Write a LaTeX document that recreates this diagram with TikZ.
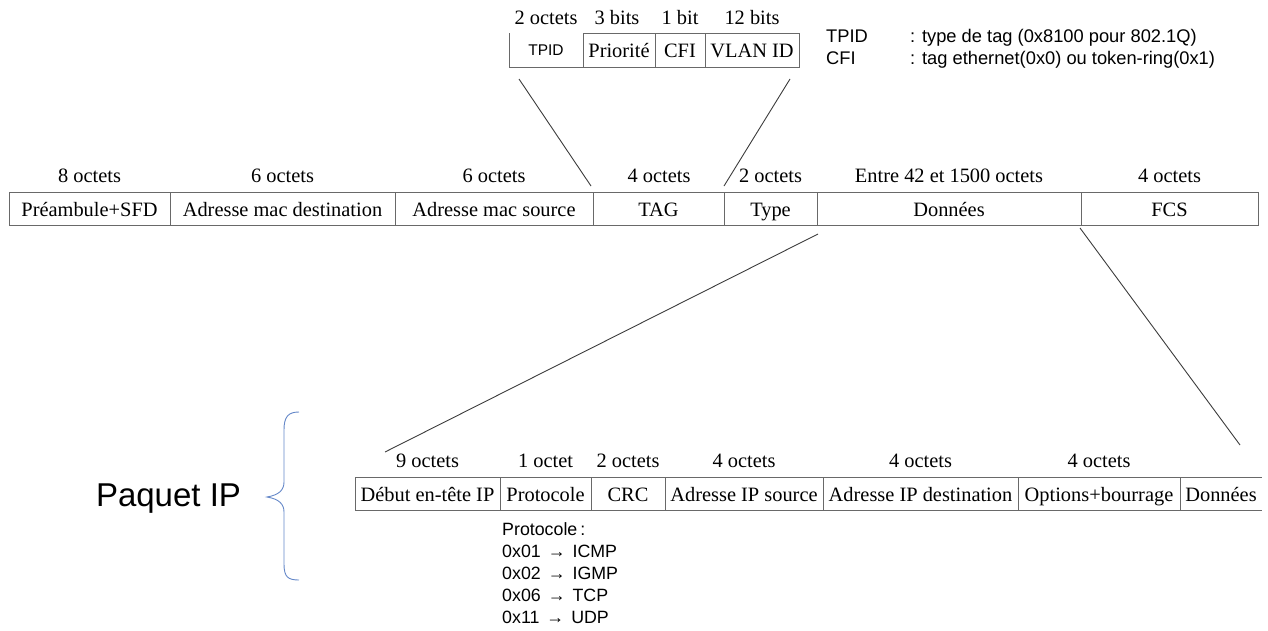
\documentclass[tikz,border=0pt]{standalone}
\usepackage{fontspec}
\setmainfont{Liberation Serif}
\setsansfont{Liberation Sans}
\definecolor{framegray}{RGB}{105,105,105}
\definecolor{linegray}{RGB}{60,60,60}
\definecolor{braceblue}{RGB}{100,135,200}
\newcommand{\protoarrow}{\hspace{7pt}→\hspace{7pt}}
\tikzset{
  cell/.style={draw=framegray, line width=0.9pt, minimum height=33pt, inner sep=0pt,
    text height=15pt, text depth=0pt, font=\fontsize{20.4}{24}\selectfont},
  opencell/.style={minimum height=33pt, inner sep=0pt,
    text height=15pt, text depth=0pt, font=\fontsize{20.4}{24}\selectfont},
  size/.style={anchor=base, inner sep=0pt, font=\fontsize{20.4}{24}\selectfont},
  legend/.style={anchor=base west, inner sep=0pt, font=\sffamily\fontsize{18.3}{22}\selectfont},
  protoline/.style={anchor=base west, inner sep=0pt, font=\sffamily\fontsize{17.8}{22}\selectfont},
  zoomline/.style={draw=linegray, line width=0.9pt},
  frameline/.style={draw=framegray, line width=0.9pt}
}
\begin{document}
\begin{tikzpicture}[x=1pt,y=-1pt]
\useasboundingbox (0,0) rectangle (1268,630);

% ---------- TAG detail box ----------
\node[opencell, minimum width=74pt, font=\sffamily\fontsize{15.5}{18}\selectfont, text height=11pt] (tpid) at (546,50) {TPID};
\draw[frameline] (509,33) -- (509,67) -- (583,67);
\node[cell, minimum width=72pt, minimum height=34pt] (prio) at (619,50) {Priorité};
\node[cell, minimum width=50pt, minimum height=34pt] (cfi) at (680,50) {CFI};
\node[cell, minimum width=94pt, minimum height=34pt] (vlan) at (752,50) {VLAN ID};

\node[size] (s-tpid) at (546,24) {2 octets};
\node[size] (s-prio) at (617,24) {3 bits};
\node[size] (s-cfi) at (680,24) {1 bit};
\node[size] (s-vlan) at (752,24) {12 bits};

% legend
\node[legend] (l1a) at (826,42) {TPID};
\node[legend] (l1b) at (910,42) {: type de tag (0x8100 pour 802.1Q)};
\node[legend] (l2a) at (826,64) {CFI};
\node[legend] (l2b) at (910,64) {: tag ethernet(0x0) ou token-ring(0x1)};

% ---------- Ethernet frame ----------
\node[cell, minimum width=161pt] (pre)  at (89.5,208.5) {Préambule+SFD};
\node[cell, minimum width=225pt] (dst)  at (282.5,208.5) {Adresse mac destination};
\node[cell, minimum width=198pt] (src)  at (494,208.5) {Adresse mac source};
\node[cell, minimum width=131pt] (tag)  at (658.5,208.5) {TAG};
\node[cell, minimum width=93pt]  (type) at (770.5,208.5) {Type};
\node[cell, minimum width=264pt] (data) at (949,208.5) {Données};
\node[cell, minimum width=177pt] (fcs)  at (1169.5,208.5) {FCS};

\node[size] (s-pre)  at (89.5,182) {8 octets};
\node[size] (s-dst)  at (282.5,182) {6 octets};
\node[size] (s-src)  at (494,182) {6 octets};
\node[size] (s-tag)  at (659,182) {4 octets};
\node[size] (s-type) at (770.5,182) {2 octets};
\node[size] (s-data) at (949,182) {Entre 42 et 1500 octets};
\node[size] (s-fcs)  at (1169.5,182) {4 octets};

% ---------- IP packet ----------
\node[cell, minimum width=145pt] (ip1) at (427.5,493.5) {Début en-tête IP};
\node[cell, minimum width=91pt]  (ip2) at (545.5,493.5) {Protocole};
\node[cell, minimum width=74pt]  (ip3) at (628,493.5) {CRC};
\node[cell, minimum width=158pt] (ip4) at (744,493.5) {Adresse IP source};
\node[cell, minimum width=195pt] (ip5) at (920.5,493.5) {Adresse IP destination};
\node[cell, minimum width=162pt] (ip6) at (1099,493.5) {Options+bourrage};
\node[opencell, minimum width=82pt] (ip7) at (1221,493.5) {Données};
\draw[frameline] (1180,477) -- (1262,477);
\draw[frameline] (1180,510) -- (1262,510);

\node[size] (s-ip1) at (427.5,467) {9 octets};
\node[size] (s-ip2) at (545.5,467) {1 octet};
\node[size] (s-ip3) at (628,467) {2 octets};
\node[size] (s-ip4) at (744,467) {4 octets};
\node[size] (s-ip5) at (920.5,467) {4 octets};
\node[size] (s-ip6) at (1099,467) {4 octets};

% protocol list
\node[protoline] (pr0) at (502,535) {Protocole\,:};
\node[protoline] (pr1) at (502,557) {0x01\protoarrow ICMP};
\node[protoline] (pr2) at (502,579) {0x02\protoarrow IGMP};
\node[protoline] (pr3) at (502,601) {0x06\protoarrow TCP};
\node[protoline] (pr4) at (502,623) {0x11\protoarrow UDP};

% Paquet IP + brace
\node[anchor=base, inner sep=0pt, font=\sffamily\fontsize{33}{38}\selectfont] (paquet) at (168.5,506) {Paquet IP};
\draw[braceblue, line width=0.9pt] (299,412) .. controls (288,412) and (284,417) .. (284,430)
  -- (284,482) .. controls (284,490) and (279,495) .. (267,497)
  .. controls (279,499) and (284,504) .. (284,512)
  -- (284,564) .. controls (284,577) and (288,580) .. (299,580);

% ---------- zoom connectors ----------
\coordinate (tagL-top) at (519,79);
\coordinate (tagL-bot) at (591,186);
\coordinate (tagR-top) at (790,79);
\coordinate (tagR-bot) at (724,186);
\coordinate (dataL-top) at (818,234);
\coordinate (dataL-bot) at (385,452);
\coordinate (dataR-top) at (1080,228);
\coordinate (dataR-bot) at (1240,445);
\draw[zoomline] (tagL-top) -- (tagL-bot);
\draw[zoomline] (tagR-top) -- (tagR-bot);
\draw[zoomline] (dataL-top) -- (dataL-bot);
\draw[zoomline] (dataR-top) -- (dataR-bot);
\end{tikzpicture}
\end{document}
